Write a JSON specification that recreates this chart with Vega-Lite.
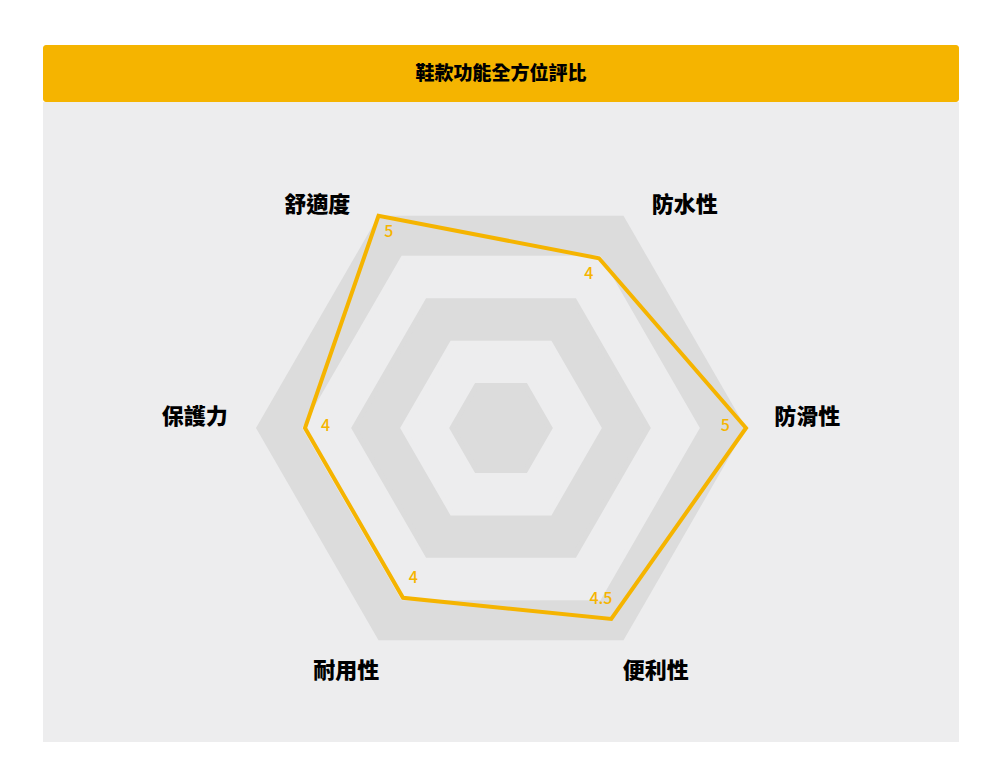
{
  "$schema": "https://vega.github.io/schema/vega-lite/v6.json",
  "background": "white",
  "padding": {"left": 43, "top": 45, "right": 41, "bottom": 34},
  "spacing": 0,
  "config": {
    "view": {"stroke": null},
    "font": "Noto Sans CJK TC",
    "text": {"font": "Noto Sans CJK TC"}
  },
  "datasets": {
    "scores": [
      {"axis": "防滑性", "k": 0, "score": 5},
      {"axis": "防水性", "k": 1, "score": 4},
      {"axis": "舒適度", "k": 2, "score": 5},
      {"axis": "保護力", "k": 3, "score": 4},
      {"axis": "耐用性", "k": 4, "score": 4},
      {"axis": "便利性", "k": 5, "score": 4.5}
    ],
    "grid": [
      {"level": 5, "k": 0}, {"level": 5, "k": 1}, {"level": 5, "k": 2}, {"level": 5, "k": 3},
      {"level": 4, "k": 0}, {"level": 4, "k": 1}, {"level": 4, "k": 2}, {"level": 4, "k": 3},
      {"level": 3, "k": 0}, {"level": 3, "k": 1}, {"level": 3, "k": 2}, {"level": 3, "k": 3},
      {"level": 2, "k": 0}, {"level": 2, "k": 1}, {"level": 2, "k": 2}, {"level": 2, "k": 3},
      {"level": 1, "k": 0}, {"level": 1, "k": 1}, {"level": 1, "k": 2}, {"level": 1, "k": 3}
    ]
  },
  "vconcat": [
    {
      "width": 916,
      "height": 57,
      "view": {"fill": "#f5b400", "stroke": null, "cornerRadius": 3},
      "data": {"values": [{"title": "鞋款功能全方位評比"}]},
      "mark": {"type": "text", "fontSize": 19, "fontWeight": 900, "color": "#000000"},
      "encoding": {"text": {"field": "title"}}
    },
    {
      "width": 916,
      "height": 640,
      "view": {"fill": "#ededee", "stroke": null},
      "layer": [
        {
          "data": {"name": "grid"},
          "transform": [
            {"calculate": "datum.k * PI / 3", "as": "a"},
            {"calculate": "datum.level * cos(datum.a)", "as": "gx"},
            {"calculate": "datum.level * sin(datum.a)", "as": "gy"},
            {"calculate": "-datum.gy", "as": "gy2"}
          ],
          "encoding": {
            "x": {"field": "gx", "type": "quantitative", "scale": {"domain": [-9.347, 9.347], "nice": false, "zero": false}, "axis": null},
            "y": {"field": "gy", "type": "quantitative", "stack": null, "scale": {"domain": [-6.408, 6.653], "nice": false, "zero": false}, "axis": null},
            "y2": {"field": "gy2"}
          },
          "layer": [
            {"transform": [{"filter": "datum.level == 5"}], "mark": {"type": "area", "color": "#dcdcdc"}},
            {"transform": [{"filter": "datum.level == 4"}], "mark": {"type": "area", "color": "#ededee", "stroke": "#ededee", "strokeWidth": 5, "strokeJoin": "miter"}},
            {"transform": [{"filter": "datum.level == 3"}], "mark": {"type": "area", "color": "#dcdcdc", "stroke": "#dcdcdc", "strokeWidth": 5, "strokeJoin": "miter"}},
            {"transform": [{"filter": "datum.level == 2"}], "mark": {"type": "area", "color": "#ededee", "stroke": "#ededee", "strokeWidth": 5, "strokeJoin": "miter"}},
            {"transform": [{"filter": "datum.level == 1"}], "mark": {"type": "area", "color": "#dcdcdc", "stroke": "#dcdcdc", "strokeWidth": 5, "strokeJoin": "miter"}}
          ]
        },
        {
          "data": {"name": "scores"},
          "transform": [
            {"calculate": "datum.k * PI / 3", "as": "a"},
            {"calculate": "datum.score * cos(datum.a)", "as": "px"},
            {"calculate": "datum.score * sin(datum.a)", "as": "py"},
            {"calculate": "(datum.score - 0.42) * cos(datum.a)", "as": "vx"},
            {"calculate": "(datum.score - 0.42) * sin(datum.a)", "as": "vy"},
            {"calculate": "5 * cos(datum.a) + (cos(datum.a) > 0 ? 1 : -1) * (sin(datum.a) < -0.5 ? 0.66 : 1.25)", "as": "nx"},
            {"calculate": "5 * sin(datum.a) + (sin(datum.a) < -0.5 ? -0.63 : 0.22)", "as": "ny"},
            {"calculate": "format(datum.score, '')", "as": "label"}
          ],
          "layer": [
            {
              "mark": {"type": "line", "interpolate": "linear-closed", "color": "#f5b400", "strokeWidth": 4, "strokeJoin": "miter"},
              "encoding": {
                "x": {"field": "px", "type": "quantitative", "scale": {"domain": [-9.347, 9.347], "nice": false, "zero": false}, "axis": null},
                "y": {"field": "py", "type": "quantitative", "scale": {"domain": [-6.408, 6.653], "nice": false, "zero": false}, "axis": null},
                "order": {"field": "k"}
              }
            },
            {
              "mark": {"type": "text", "fontSize": 16, "fontWeight": 500, "color": "#f5b400", "align": "center", "baseline": "middle", "dy": -2},
              "encoding": {
                "x": {"field": "vx", "type": "quantitative"},
                "y": {"field": "vy", "type": "quantitative"},
                "text": {"field": "label"}
              }
            },
            {
              "mark": {"type": "text", "fontSize": 22, "fontWeight": 900, "color": "#000000", "align": "center", "baseline": "middle"},
              "encoding": {
                "x": {"field": "nx", "type": "quantitative"},
                "y": {"field": "ny", "type": "quantitative"},
                "text": {"field": "axis"}
              }
            }
          ]
        }
      ]
    }
  ]
}
